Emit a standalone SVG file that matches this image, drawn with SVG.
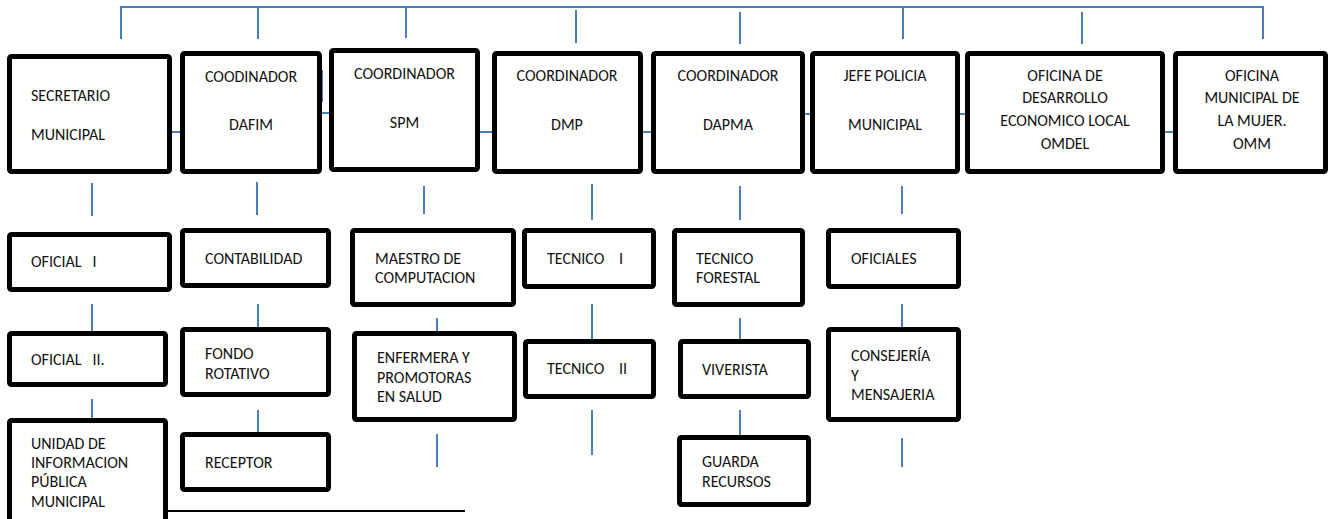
<svg xmlns="http://www.w3.org/2000/svg" width="1331" height="519" viewBox="0 0 1331 519">
<style>
.box{fill:#fff;stroke:#000;stroke-width:5;}
.t{font-family:Carlito,Lato,"Liberation Sans",sans-serif;font-size:16px;fill:#111;}
.c{text-anchor:middle;}
.ln{stroke:#4a7ebb;stroke-width:2;fill:none;}
</style>
<rect width="1331" height="519" fill="#fff"/>
<g id="connectors">
<path class="ln" d="M121,39 V7 H1263 V39 M258,7 V39 M406,7 V38 M576,10 V43 M740,12 V44 M903,7 V39 M1082,12 V44"/>
<path class="ln" d="M170,132 H182 M322,70 V102 M322,113 H331 M478,132 H493 M641,132 H652 M803,114 H813 M958,114 H967 M1163,132 H1176"/>
<path class="ln" d="M92,183 V216 M257,182 V215 M424,186 V214 M592,184 V220 M740,186 V220 M902,186 V214"/>
<path class="ln" d="M92,304 V333 M92,399 V421 M258,304 V333 M258,410 V433 M437,318 V333 M437,434 V467 M592,304 V340 M592,410 V455 M740,318 V340 M740,410 V437 M902,304 V333 M902,438 V467"/>
<path d="M168,511 H465" stroke="#000" stroke-width="2"/>
</g>
<g id="n1"><rect class="box" x="9.5" y="56.5" width="160" height="115" rx="2"/><text class="t" x="31" y="101">SECRETARIO</text><text class="t" x="31" y="140">MUNICIPAL</text></g>
<g id="n2"><rect class="box" x="182.5" y="53.5" width="137" height="118" rx="2"/><text class="t c" x="251" y="82">COODINADOR</text><text class="t c" x="251" y="130">DAFIM</text></g>
<g id="n3"><rect class="box" x="331.5" y="50.5" width="146" height="119" rx="2"/><text class="t c" x="404.5" y="79">COORDINADOR</text><text class="t c" x="404.5" y="128">SPM</text></g>
<g id="n4"><rect class="box" x="494.5" y="53.5" width="146" height="118" rx="2"/><text class="t c" x="567" y="81">COORDINADOR</text><text class="t c" x="567" y="130">DMP</text></g>
<g id="n5"><rect class="box" x="653.5" y="53.5" width="149" height="118" rx="2"/><text class="t c" x="728" y="81">COORDINADOR</text><text class="t c" x="728" y="130">DAPMA</text></g>
<g id="n6"><rect class="box" x="812.5" y="53.5" width="145" height="118" rx="2"/><text class="t c" x="885" y="81">JEFE POLICIA</text><text class="t c" x="885" y="130">MUNICIPAL</text></g>
<g id="n7"><rect class="box" x="967.5" y="53.5" width="195" height="118" rx="2"/><text class="t c" x="1065" y="81">OFICINA DE</text><text class="t c" x="1065" y="103">DESARROLLO</text><text class="t c" x="1065" y="126">ECONOMICO LOCAL</text><text class="t c" x="1065" y="149">OMDEL</text></g>
<g id="n8"><rect class="box" x="1175.5" y="53.5" width="150" height="118" rx="2"/><text class="t c" x="1252" y="81">OFICINA</text><text class="t c" x="1252" y="103">MUNICIPAL DE</text><text class="t c" x="1252" y="126">LA MUJER.</text><text class="t c" x="1252" y="149">OMM</text></g>
<g id="n9"><rect class="box" x="9.5" y="234.5" width="160" height="55" rx="2"/><text class="t" x="31" y="267" xml:space="preserve">OFICIAL   I</text></g>
<g id="n10"><rect class="box" x="9.5" y="333.5" width="156" height="51" rx="2"/><text class="t" x="31" y="365" xml:space="preserve">OFICIAL   II.</text></g>
<g id="n11"><rect class="box" x="9.5" y="420.5" width="156" height="110" rx="2"/><text class="t" x="31" y="449">UNIDAD DE</text><text class="t" x="31" y="468">INFORMACION</text><text class="t" x="31" y="487">PÚBLICA</text><text class="t" x="31" y="507">MUNICIPAL</text></g>
<g id="n12"><rect class="box" x="182.5" y="230.5" width="146" height="55" rx="2"/><text class="t" x="205" y="264">CONTABILIDAD</text></g>
<g id="n13"><rect class="box" x="182.5" y="329.5" width="146" height="65" rx="2"/><text class="t" x="205" y="359">FONDO</text><text class="t" x="205" y="379">ROTATIVO</text></g>
<g id="n14"><rect class="box" x="182.5" y="434.5" width="146" height="55" rx="2"/><text class="t" x="205" y="468">RECEPTOR</text></g>
<g id="n15"><rect class="box" x="352.5" y="230.5" width="161" height="74" rx="2"/><text class="t" x="375" y="264">MAESTRO DE</text><text class="t" x="375" y="283">COMPUTACION</text></g>
<g id="n16"><rect class="box" x="354.5" y="333.5" width="160" height="86" rx="2"/><text class="t" x="377" y="363">ENFERMERA Y</text><text class="t" x="377" y="383">PROMOTORAS</text><text class="t" x="377" y="402">EN SALUD</text></g>
<g id="n17"><rect class="box" x="524.5" y="230.5" width="129" height="56" rx="2"/><text class="t" x="547" y="264">TECNICO</text><text class="t" x="619" y="264">I</text></g>
<g id="n18"><rect class="box" x="525.5" y="341.5" width="128" height="55" rx="2"/><text class="t" x="547" y="374">TECNICO</text><text class="t" x="619" y="374">II</text></g>
<g id="n19"><rect class="box" x="674.5" y="230.5" width="128" height="74" rx="2"/><text class="t" x="696" y="264">TECNICO</text><text class="t" x="696" y="283">FORESTAL</text></g>
<g id="n20"><rect class="box" x="680.5" y="341.5" width="128" height="55" rx="2"/><text class="t" x="702" y="375">VIVERISTA</text></g>
<g id="n21"><rect class="box" x="679.5" y="437.5" width="129" height="67" rx="2"/><text class="t" x="702" y="467">GUARDA</text><text class="t" x="702" y="487">RECURSOS</text></g>
<g id="n22"><rect class="box" x="828.5" y="230.5" width="130" height="56" rx="2"/><text class="t" x="851" y="264">OFICIALES</text></g>
<g id="n23"><rect class="box" x="828.5" y="329.5" width="130" height="90" rx="2"/><text class="t" x="851" y="361">CONSEJERÍA</text><text class="t" x="851" y="381">Y</text><text class="t" x="851" y="400">MENSAJERIA</text></g>
</svg>
